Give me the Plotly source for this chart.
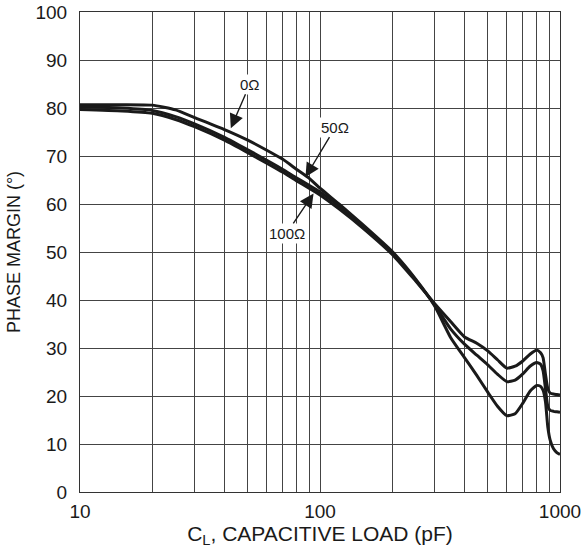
import numpy as np
import plotly.graph_objects as go

# Capacitive load (pF)
cap_load = [10, 15, 20, 25, 30, 40, 50, 60, 70, 80, 90, 100, 120, 150, 200, 250, 300,
            350, 400, 450, 500, 550, 600, 650, 700, 750, 800, 830, 850, 870, 890, 910,
            940, 970, 1000]

# Phase margin (degrees) for each series resistance
pm_0ohm = [80.7, 80.7, 80.6, 79.6, 78.0, 75.5, 73.3, 71.2, 69.3, 67.2, 65.4, 63.3, 60.0,
           55.8, 50.1, 44.4, 38.8, 32.2, 28.0, 24.3, 20.8, 17.8, 15.9, 16.3, 18.5, 21.0,
           22.2, 22.0, 21.2, 18.8, 13.5, 10.8, 9.0, 8.2, 7.8]
pm_50ohm = [80.3, 80.0, 79.5, 78.2, 76.7, 73.9, 71.3, 69.1, 67.2, 65.4, 63.9, 62.5, 59.6,
            55.5, 49.8, 44.2, 39.0, 34.0, 30.8, 28.5, 26.5, 24.5, 23.0, 23.3, 24.6, 26.2,
            27.0, 26.6, 25.3, 21.5, 17.8, 17.0, 16.8, 16.7, 16.6]
pm_100ohm = [79.7, 79.4, 78.9, 77.6, 76.1, 73.3, 70.7, 68.5, 66.6, 64.8, 63.3, 61.9, 59.0,
             55.1, 49.5, 44.0, 39.3, 35.5, 32.3, 31.0, 29.4, 27.5, 25.8, 26.2, 27.3, 28.7,
             29.6, 29.0, 28.0, 24.5, 21.5, 20.6, 20.4, 20.3, 20.2]

# Curve labels and the points their arrows indicate
label_text = ["0Ω", "50Ω", "100Ω"]
label_cap = [42.5, 87, 94]
label_pm = [75.8, 65.6, 62.2]

x_ticks = [10, 100, 1000]
x_minor = [20, 30, 40, 50, 60, 70, 80, 90, 200, 300, 400, 500, 600, 700, 800, 900]
y_ticks = [0, 10, 20, 30, 40, 50, 60, 70, 80, 90, 100]

FONT = "Liberation Sans, Arial, sans-serif"
INK = "#1a1a1a"
GRID = "#444444"

fig = go.Figure()
for series in (pm_0ohm, pm_50ohm, pm_100ohm):
    fig.add_trace(go.Scatter(x=cap_load, y=series, mode="lines",
                             line=dict(color=INK, width=3, shape="spline", smoothing=0.5),
                             showlegend=False, hoverinfo="skip"))

offsets = [(19, -44), (30, -50), (-27, 40)]
for txt, cx, cy, (ax, ay) in zip(label_text, label_cap, label_pm, offsets):
    fig.add_annotation(x=np.log10(cx), y=cy, xref="x", yref="y", text=txt,
                       showarrow=True, arrowhead=2, arrowsize=2.0, arrowwidth=1.4,
                       arrowcolor=INK, ax=ax, ay=ay, axref="pixel", ayref="pixel",
                       font=dict(family=FONT, size=15, color=INK),
                       bgcolor="white", borderpad=1)

fig.update_layout(
    width=585, height=548,
    margin=dict(l=80, r=25, t=12, b=56, autoexpand=False),
    paper_bgcolor="white", plot_bgcolor="white",
    font=dict(family=FONT, size=19, color=INK),
)
fig.update_xaxes(
    type="log", range=[1, 3], tickvals=x_ticks, ticktext=[str(v) for v in x_ticks],
    showgrid=True, gridcolor=GRID, gridwidth=1,
    minor=dict(tickvals=x_minor, showgrid=True, gridcolor=GRID, gridwidth=1, ticks=""),
    showline=True, linecolor="#333333", linewidth=1, mirror=True,
    ticks="", ticklabelstandoff=2, zeroline=False, automargin=False,
    tickfont=dict(size=19),
    title=dict(text="C<sub>L</sub>, CAPACITIVE LOAD (pF)", font=dict(size=21), standoff=2),
)
fig.update_yaxes(
    range=[0, 100], tickvals=y_ticks,
    showgrid=True, gridcolor=GRID, gridwidth=1,
    showline=True, linecolor="#333333", linewidth=1, mirror=True,
    ticks="", ticklabelstandoff=8, zeroline=False, automargin=False,
    tickfont=dict(size=19),
    title=dict(text="PHASE MARGIN (°)", font=dict(size=18), standoff=10),
)

fig.write_html("out.html", config={"displayModeBar": False},
               post_script="document.body.style.margin='0';")
